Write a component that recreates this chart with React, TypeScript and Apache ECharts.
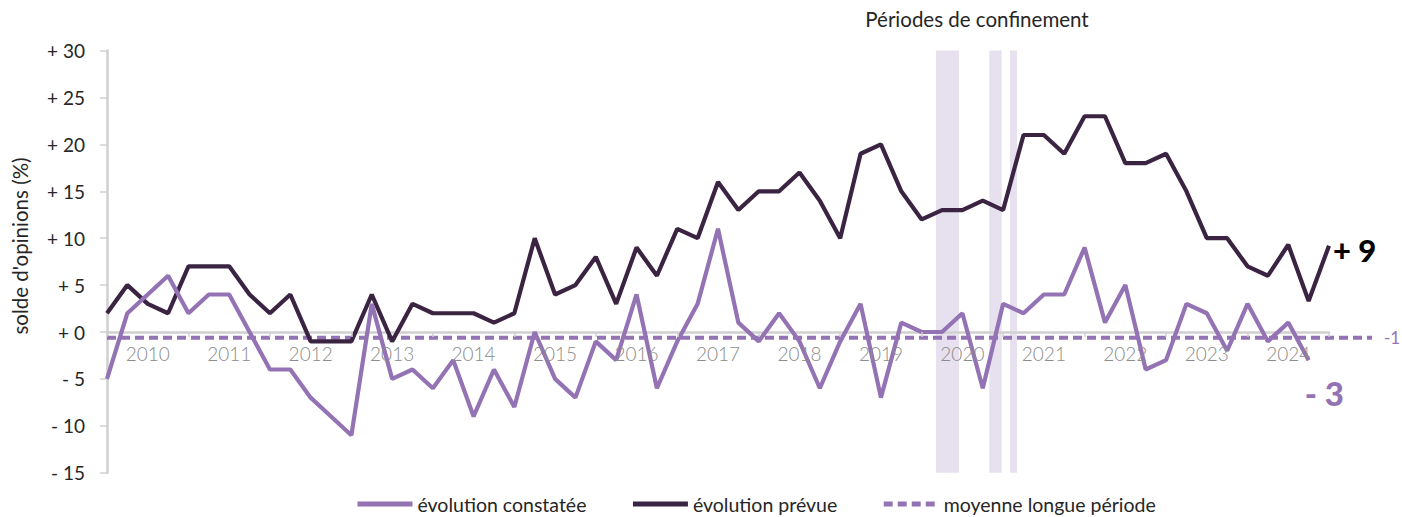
import React, { useEffect, useRef } from "react";
import * as echarts from "echarts";

// ---------- Data ----------
const years = [2010, 2011, 2012, 2013, 2014, 2015, 2016, 2017, 2018, 2019, 2020, 2021, 2022, 2023, 2024];
const quarters = ["T1", "T2", "T3", "T4"];
const categories: string[] = [
  ...years.flatMap((y) => quarters.map((q) => `${y} ${q}`)),
  "2025 T1",
];
const yearLabels = years.map(String);

const evolutionPrevue = [
  2, 5, 3, 2, 7, 7, 7, 4, 2, 4,
  -1, -1, -1, 4, -1, 3, 2, 2, 2, 1,
  2, 10, 4, 5, 8, 3, 9, 6, 11, 10,
  16, 13, 15, 15, 17, 14, 10, 19, 20, 15,
  12, 13, 13, 14, 13, 21, 21, 19, 23, 23,
  18, 18, 19, 15, 10, 10, 7, 6, 9.3, 3.3,
  9.2,
];

const evolutionConstatee = [
  -5, 2, 4, 6, 2, 4, 4, 0, -4, -4,
  -7, -9, -11, 3, -5, -4, -6, -3, -9, -4,
  -8, 0, -5, -7, -1, -3, 4, -6, -1, 3,
  11, 1, -1, 2, -1, -6, -1, 3, -7, 1,
  0, 0, 2, -6, 3, 2, 4, 4, 9, 1,
  5, -4, -3, 3, 2, -2, 3, -1, 1, -3,
];

const moyenneLonguePeriode = -0.6;

// confinement periods, in quarter-index units along the axis
const confinementPeriods: [number, number][] = [
  [40.7, 41.83],
  [43.32, 43.93],
  [44.33, 44.68],
];

const seriesNames = ["évolution constatée", "évolution prévue", "moyenne longue période"];

// ---------- Styles ----------
const PURPLE = "#9473b4";
const DARK = "#3b2442";
const BAND = "#e7e1ef";
const AXIS_GRAY = "#d0d0d0";
const TEXT = "#262626";
const FONT = "Lato, 'Open Sans', sans-serif";

const fmtSigned = (v: number) => (v < 0 ? `- ${Math.abs(v)}` : `+ ${v}`);

export default function App() {
  const ref = useRef<HTMLDivElement>(null);

  useEffect(() => {
    if (!ref.current) return;
    const chart = echarts.init(ref.current, undefined, { renderer: "svg" });

    const option: any = {
      animation: false,
      textStyle: { fontFamily: FONT },
      grid: [
        { left: 107, right: 73, top: 50.6, bottom: 44.3 },
        { left: 107, right: 30, top: 50.6, bottom: 44.3 },
        // thin grid whose bottom edge sits on the zero line, carrying the year labels
        { left: 107, right: 73, top: 300, bottom: 185 },
      ],
      xAxis: [
        {
          type: "category",
          gridIndex: 0,
          data: categories,
          boundaryGap: false,
          axisLine: { onZero: true, lineStyle: { color: AXIS_GRAY, width: 2.5 } },
          axisTick: { show: false },
          axisLabel: { show: false },
          splitLine: { show: false },
        },
        { type: "value", gridIndex: 0, min: 0, max: 60, show: false, axisLine: { onZero: false } },
        { type: "value", gridIndex: 1, min: 0, max: 1, show: false, axisLine: { onZero: false } },
        {
          type: "category",
          gridIndex: 2,
          data: yearLabels,
          boundaryGap: true,
          z: 5,
          axisLine: { show: false, onZero: false },
          axisTick: {
            show: true,
            interval: 0,
            length: 5,
            lineStyle: { color: AXIS_GRAY, width: 1.5 },
          },
          axisLabel: {
            interval: 0,
            color: "#8c8c8c",
            fontSize: 19,
            fontFamily: FONT,
            fontWeight: 300,
            margin: 12,
          },
          splitLine: { show: false },
        },
      ],
      yAxis: [
        {
          type: "value",
          gridIndex: 0,
          min: -15,
          max: 30,
          interval: 5,
          axisLine: { show: true, lineStyle: { color: AXIS_GRAY, width: 2.5 } },
          axisTick: { show: true, length: 7, lineStyle: { color: AXIS_GRAY, width: 1.5 } },
          splitLine: { show: false },
          axisLabel: {
            formatter: (v: number) => fmtSigned(v),
            color: TEXT,
            fontSize: 19,
            fontFamily: FONT,
            margin: 22,
          },
        },
        { type: "value", gridIndex: 1, min: -15, max: 30, show: false },
        { type: "value", gridIndex: 2, show: false },
      ],
      legend: {
        data: seriesNames,
        left: 350,
        top: 489,
        itemWidth: 55,
        itemHeight: 4,
        itemGap: 44,
        itemStyle: { opacity: 0 },
        lineStyle: { width: 5 },
        textStyle: { fontSize: 19.5, color: TEXT, fontFamily: FONT },
      },
      graphic: [
        {
          type: "text",
          x: 20,
          y: 246,
          rotation: Math.PI / 2,
          style: {
            text: "solde d'opinions (%)",
            fontSize: 20.5,
            fontFamily: FONT,
            fill: TEXT,
            align: "center",
            verticalAlign: "middle",
          },
        },
        {
          type: "text",
          x: 977,
          y: 19,
          style: {
            text: "Périodes de confinement",
            fontSize: 20.5,
            fontFamily: FONT,
            fill: TEXT,
            align: "center",
            verticalAlign: "middle",
          },
        },
      ],
      series: [
        {
          name: "bands",
          type: "line",
          xAxisIndex: 1,
          yAxisIndex: 0,
          data: [],
          z: -1,
          markArea: {
            silent: true,
            z: -1,
            itemStyle: { color: BAND },
            data: confinementPeriods.map(([a, b]) => [{ xAxis: a }, { xAxis: b }]),
          },
        },
        {
          name: seriesNames[2],
          type: "line",
          xAxisIndex: 2,
          yAxisIndex: 1,
          data: [
            [0, moyenneLonguePeriode],
            [1, moyenneLonguePeriode],
          ],
          symbol: "none",
          z: 2,
          color: PURPLE,
          lineStyle: { color: PURPLE, width: 4, type: [9, 5] },
          endLabel: {
            show: true,
            formatter: (p: any) => `${Math.round(p.value[1])}`,
            color: PURPLE,
            fontSize: 17,
            fontFamily: FONT,
            distance: 12,
          },
        },
        {
          name: seriesNames[1],
          type: "line",
          xAxisIndex: 0,
          yAxisIndex: 0,
          data: evolutionPrevue,
          symbol: "none",
          z: 3,
          color: DARK,
          lineStyle: { color: DARK, width: 4.2 },
          endLabel: {
            show: true,
            formatter: (p: any) => fmtSigned(Math.round(p.value)),
            color: "#000",
            fontSize: 31,
            fontWeight: 900,
            fontFamily: FONT,
            distance: 4,
            offset: [0, 4],
          },
        },
        {
          name: seriesNames[0],
          type: "line",
          xAxisIndex: 0,
          yAxisIndex: 0,
          data: evolutionConstatee,
          symbol: "none",
          z: 4,
          color: PURPLE,
          lineStyle: { color: PURPLE, width: 4.2 },
          endLabel: {
            show: true,
            formatter: (p: any) => fmtSigned(Math.round(p.value)),
            color: PURPLE,
            fontSize: 33,
            fontWeight: 900,
            fontFamily: FONT,
            distance: 5,
            offset: [-9, 33],
          },
        },
      ],
    };

    chart.setOption(option);
    return () => chart.dispose();
  }, []);

  return (
    <div
      ref={ref}
      style={{ position: "fixed", left: 0, top: 0, width: 1402, height: 517, background: "#fff" }}
    />
  );
}
